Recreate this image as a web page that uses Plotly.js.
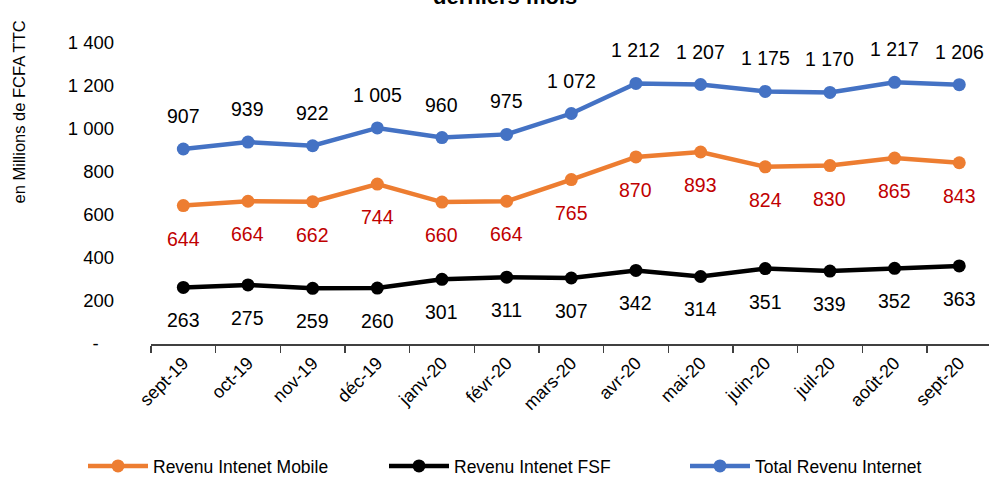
<!DOCTYPE html>
<html>
<head>
<meta charset="utf-8">
<script src="https://cdn.plot.ly/plotly-3.0.1.min.js"></script>
<style>html,body{margin:0;padding:0;background:#fff;}#chart{width:989px;height:477px;}</style>
</head>
<body>
<div id="chart"></div>
<script>
const months = ["sept-19","oct-19","nov-19","déc-19","janv-20","févr-20","mars-20","avr-20","mai-20","juin-20","juil-20","août-20","sept-20"];
const mobile = [644,664,662,744,660,664,765,870,893,824,830,865,843];
const fsf = [263,275,259,260,301,311,307,342,314,351,339,352,363];
const total = [907,939,922,1005,960,975,1072,1212,1207,1175,1170,1217,1206];
const yTickVals = [0,200,400,600,800,1000,1200,1400];
const yTickText = ["-\u00a0\u00a0\u00a0","200","400","600","800","1 000","1 200","1 400"];
const seriesNames = ["Revenu Intenet Mobile","Revenu Intenet FSF","Total Revenu Internet"];

const REG = "Liberation Sans, Arial, sans-serif";
function fmt(v){ return v >= 1000 ? Math.floor(v/1000) + " " + String(v%1000).padStart(3,"0") : String(v); }

const colors = ["#ED7D31","#000000","#4472C4"];
const data = [mobile, fsf, total];
const traces = data.map((ys,i)=>({
  type:"scatter", mode:"lines+markers", x:months, y:ys, name:seriesNames[i],
  line:{color:colors[i], width:4.5}, marker:{color:colors[i], size:13},
  cliponaxis:false
}));

const annotations = [];
const labelCfg = [{shift:-33,color:"#C00000"},{shift:-33,color:"#000000"},{shift:33,color:"#000000"}];
data.forEach((ys,i)=>{
  ys.forEach((v,j)=>{
    annotations.push({x:months[j], y:v, xref:"x", yref:"y", text:fmt(v), showarrow:false,
      yshift:labelCfg[i].shift, font:{family:REG, size:19.5, color:labelCfg[i].color}});
  });
});
annotations.push({text:"en Millions de FCFA TTC", xref:"paper", yref:"paper", x:-0.157, y:1.0, xanchor:"center", yanchor:"middle",
  textangle:-90, showarrow:false, yshift:-(112-43), font:{family:REG, size:16.5, color:"#000"}});
annotations.push({text:"<b>derniers mois</b>", xref:"paper", yref:"paper", x:(505-151)/838, y:1, xanchor:"center", yanchor:"middle",
  yshift:47, showarrow:false, font:{family:REG, size:22, color:"#000"}});

const layout = {
  width:989, height:477,
  margin:{l:151, r:0, t:43, b:133, autoexpand:false},
  paper_bgcolor:"#fff", plot_bgcolor:"#fff",
  showlegend:true,
  legend:{orientation:"h", x:(83-151)/838, xanchor:"left", y:-(466-344)/301, yanchor:"middle",
    font:{family:REG, size:17.5, color:"#000"}, entrywidth:226, itemwidth:60, tracegroupgap:0, bgcolor:"rgba(0,0,0,0)"},
  xaxis:{type:"category", range:[-0.5,12.46], showgrid:false, zeroline:false,
    showline:true, linecolor:"#404040", linewidth:1.5,
    ticks:"outside", ticklen:7, tickcolor:"#404040", tickwidth:1.5, tickson:"boundaries",
    tickangle:-45, tickfont:{family:REG, size:18, color:"#000"}, automargin:false},
  yaxis:{range:[0,1400], showgrid:false, zeroline:false, showline:false, ticks:"",
    tickvals:yTickVals, ticktext:yTickText, ticklabelstandoff:36,
    tickfont:{family:REG, size:18.5, color:"#000"}, automargin:false},
  annotations:annotations
};
Plotly.newPlot("chart", traces, layout, {displayModeBar:false, staticPlot:true});
</script>
</body>
</html>
